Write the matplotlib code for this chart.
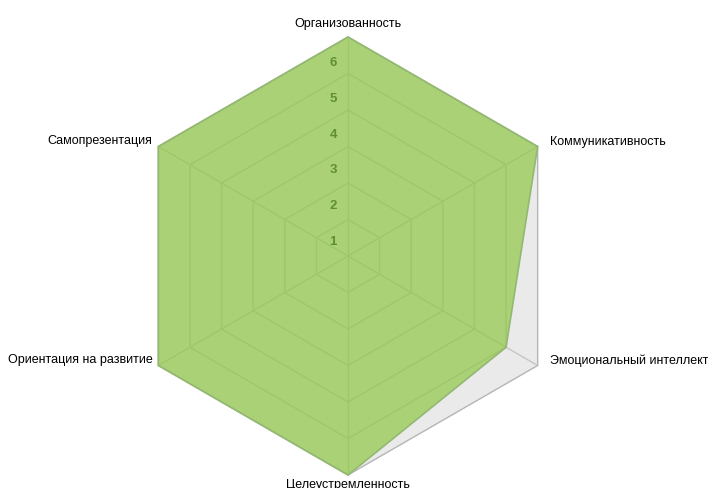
import numpy as np
import matplotlib
matplotlib.use("Agg")
import matplotlib.pyplot as plt
from matplotlib.patches import Polygon

categories = ["Организованность", "Коммуникативность", "Эмоциональный интеллект",
              "Целеустремленность", "Ориентация на развитие", "Самопрезентация"]
values = [6, 6, 5, 6, 6, 6]
tick_labels = ["1", "2", "3", "4", "5", "6"]
rmax = 6

plt.rcParams['font.family'] = ['Liberation Sans', 'DejaVu Sans']

W, H = 708, 488
cx, cy = 348, 256
ppu = 219 / rmax
fig = plt.figure(figsize=(W / 100, H / 100), dpi=100)
ax = fig.add_axes([0, 0, 1, 1])
ax.set_xlim(-cx / ppu, (W - cx) / ppu)
ax.set_ylim(-(H - cy) / ppu, cy / ppu)
ax.axis('off')

n = len(categories)
angles = np.deg2rad(90 - 360 / n * np.arange(n))
ux, uy = np.cos(angles), np.sin(angles)

# background
ax.add_patch(Polygon(np.c_[ux * rmax, uy * rmax], closed=True, facecolor='#eaeaea',
                     edgecolor='none', zorder=1))
# grid rings
for r in range(1, rmax + 1):
    ax.add_patch(Polygon(np.c_[ux * r, uy * r], closed=True, fill=False,
                         edgecolor='#b5b5b5' if r == rmax else '#c6c6c6',
                         lw=1.0, zorder=2))
for i in range(n):
    ax.plot([0, ux[i] * rmax], [0, uy[i] * rmax], color='#c6c6c6', lw=1.0, zorder=2)

# data
v = np.array(values, dtype=float)
ax.add_patch(Polygon(np.c_[ux * v, uy * v], closed=True, facecolor='#8cc63f',
                     alpha=0.68, edgecolor='none', zorder=3))
ax.add_patch(Polygon(np.c_[ux * v, uy * v], closed=True, fill=False,
                     edgecolor='#93b872', lw=1.2, zorder=4))

# tick labels
for k, t in enumerate(tick_labels):
    r = (k + 1) * 0.982 - 0.6
    ax.text(-15 / ppu, r, t, ha='center', va='center', fontsize=9.5,
            fontweight='bold', color='#5f8f30', zorder=5)

# category labels
off = 12 / ppu
for i, c in enumerate(categories):
    x, y = ux[i] * rmax, uy[i] * rmax
    dx = ux[i]
    if abs(dx) < 1e-6:
        if uy[i] > 0:
            ax.text(x, y + 7 / ppu, c, ha='center', va='bottom', fontsize=9, zorder=6)
        else:
            ax.text(x, y - 4 / ppu, c, ha='center', va='top', fontsize=9, zorder=6)
    elif dx > 0:
        ax.text(x + off, y + 5 / ppu, c, ha='left', va='center', fontsize=9, zorder=6)
    else:
        ax.text(x - 6 / ppu, y + 5 / ppu, c, ha='right', va='center', fontsize=9, zorder=6)

fig.savefig("out.png", dpi=100)
